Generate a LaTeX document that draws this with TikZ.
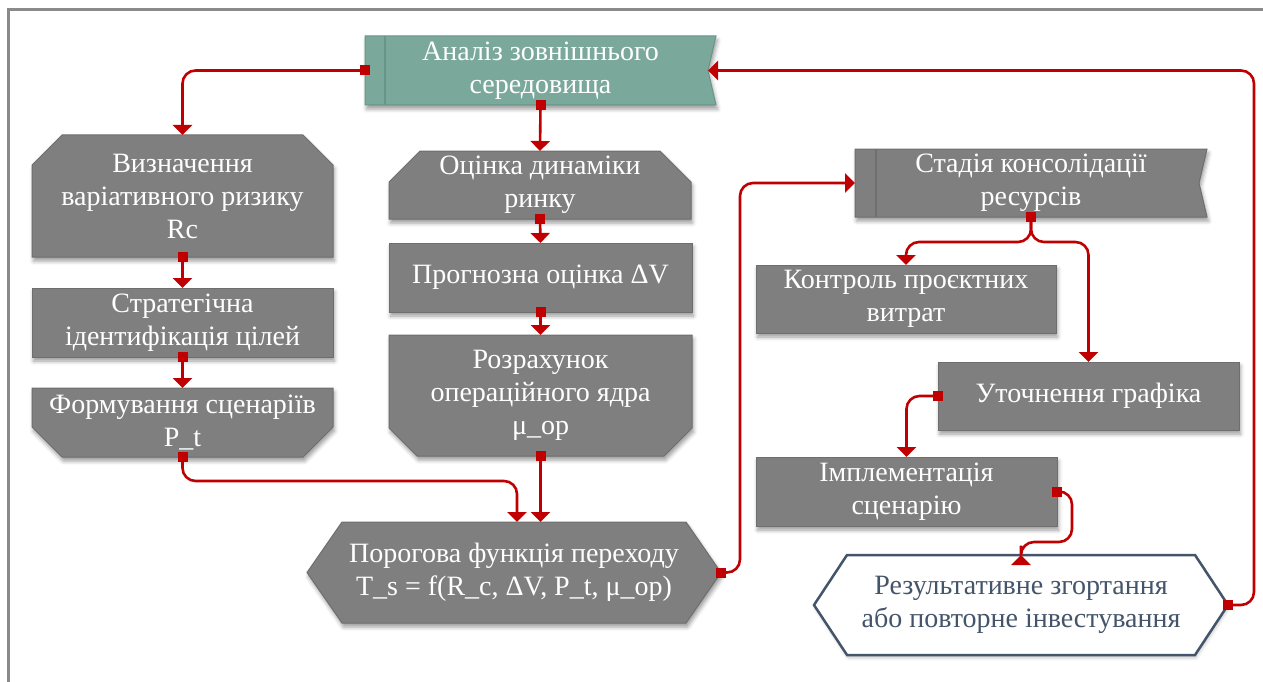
\documentclass[tikz,border=0pt]{standalone}
\usepackage{fontspec}
\setmainfont{Liberation Serif}
\usetikzlibrary{arrows.meta,calc,shadows.blur}
\pgfdeclarelayer{background}
\pgfsetlayers{background,main}

\definecolor{boxgray}{HTML}{7F7F7F}
\definecolor{boxedge}{HTML}{6E6E6E}
\definecolor{tealfill}{HTML}{7AA89B}
\definecolor{tealedge}{HTML}{679688}
\definecolor{linkred}{HTML}{C00000}
\definecolor{slate}{HTML}{44546A}
\definecolor{framegray}{HTML}{8A8A8A}

\tikzset{
  lbl/.style={font=\fontsize{28}{33}\selectfont, text=white, align=center,
    inner sep=0pt, outer sep=0pt},
  softshadow/.style={blur shadow={shadow xshift=1.5pt, shadow yshift=-4pt,
    shadow opacity=40, shadow blur radius=4pt}},
  grayshape/.style={fill=boxgray, draw=boxedge, line width=1pt, softshadow},
  tealshape/.style={fill=tealfill, draw=tealedge, line width=1pt, softshadow},
  whiteshape/.style={fill=white, draw=slate, line width=2.5pt,
    blur shadow={shadow xshift=1pt, shadow yshift=-3pt, shadow opacity=20,
    shadow blur radius=3pt}},
  link/.style={draw=linkred, line width=2.6pt, rounded corners=13pt,
    -{Triangle[width=19pt,length=10pt]}},
  sqmark/.style={fill=linkred, draw=none, sharp corners, minimum size=10pt,
    inner sep=0pt, outer sep=0pt},
}

\begin{document}
\begin{tikzpicture}[x=1pt, y=-1pt]
\useasboundingbox (0,0) rectangle (1263,682);

% outer frame (left and top edges)
\draw[framegray, line width=3pt] (8,682) -- (8,9.5) -- (1263,9.5);

% ---- text nodes (geometry holders) ----
\node[lbl, minimum width=351pt, minimum height=69pt] (A) at (540.5,70.5)
  {Аналіз зовнішнього\\середовища};

\node[lbl, minimum width=301pt, minimum height=122pt] (V) at (182.5,196)
  {Визначення\\варіативного ризику\\Rc};
\node[lbl, minimum width=301pt, minimum height=69pt] (S) at (182.5,322.5)
  {Стратегічна\\ідентифікація цілей};
\node[lbl, minimum width=301pt, minimum height=69pt] (F) at (182.5,422.5)
  {Формування сценаріїв\\P\_t};

\node[lbl, minimum width=302pt, minimum height=68pt] (O) at (540,185)
  {Оцінка динаміки\\ринку};
\node[lbl, minimum width=303pt, minimum height=69pt] (P) at (540.5,277.5)
  {Прогнозна оцінка ΔV};
\node[lbl, minimum width=303pt, minimum height=121pt] (R) at (540.5,395.5)
  {Розрахунок\\операційного ядра\\μ\_op};

\node[lbl, minimum width=414pt, minimum height=101pt] (T) at (514,572.5)
  {Порогова функція переходу\\T\_s = f(R\_c, ΔV, P\_t, μ\_op)};

\node[lbl, minimum width=352pt, minimum height=68pt] (C) at (1031,183)
  {Стадія консолідації\\ресурсів};
\node[lbl, minimum width=300pt, minimum height=68pt] (K) at (906,299)
  {Контроль проєктних\\витрат};
\node[lbl, minimum width=301pt, minimum height=68pt] (U) at (1088.5,396)
  {Уточнення графіка};
\node[lbl, minimum width=301pt, minimum height=69pt] (I) at (906.5,491.5)
  {Імплементація\\сценарію};

\node[lbl, text=slate, minimum width=414pt, minimum height=100pt] (E) at (1021,605)
  {Результативне згортання\\або повторне інвестування};

% ---- shapes behind the texts ----
\begin{pgfonlayer}{background}
  % banner shapes: bar on the left, notch on the right
  \path[tealshape] (A.north west) -- (A.north east) -- ([xshift=-8pt]A.east)
    -- (A.south east) -- (A.south west) -- cycle;
  \draw[tealedge, line width=1.2pt] ([xshift=20pt]A.north west) -- ([xshift=20pt]A.south west);

  \path[grayshape] (C.north west) -- (C.north east) -- ([xshift=-8pt]C.east)
    -- (C.south east) -- (C.south west) -- cycle;
  \draw[boxedge, line width=1.2pt] ([xshift=21pt]C.north west) -- ([xshift=21pt]C.south west);

  % top-chamfered boxes
  \path[grayshape] ([xshift=30pt]V.north west) -- ([xshift=-30pt]V.north east)
    -- ([yshift=-30pt]V.north east) -- (V.south east) -- (V.south west)
    -- ([yshift=-30pt]V.north west) -- cycle;
  \path[grayshape] ([xshift=31pt]O.north west) -- ([xshift=-31pt]O.north east)
    -- ([yshift=-31pt]O.north east) -- (O.south east) -- (O.south west)
    -- ([yshift=-31pt]O.north west) -- cycle;

  % bottom-chamfered boxes
  \path[grayshape] (F.north west) -- (F.north east) -- ([yshift=30pt]F.south east)
    -- ([xshift=-30pt]F.south east) -- ([xshift=30pt]F.south west)
    -- ([yshift=30pt]F.south west) -- cycle;
  \path[grayshape] (R.north west) -- (R.north east) -- ([yshift=28pt]R.south east)
    -- ([xshift=-28pt]R.south east) -- ([xshift=28pt]R.south west)
    -- ([yshift=28pt]R.south west) -- cycle;

  % plain boxes
  \foreach \b in {S,P,K,U,I}
    \path[grayshape] (\b.north west) rectangle (\b.south east);

  % hexagons
  \path[grayshape] ([xshift=35pt]T.north west) -- ([xshift=-35pt]T.north east)
    -- (T.east) -- ([xshift=-35pt]T.south east) -- ([xshift=35pt]T.south west)
    -- (T.west) -- cycle;
  \path[whiteshape] ([xshift=33pt]E.north west) -- ([xshift=-33pt]E.north east)
    -- (E.east) -- ([xshift=-33pt]E.south east) -- ([xshift=33pt]E.south west)
    -- (E.west) -- cycle;
\end{pgfonlayer}

% ---- connectors ----
\draw[link] (A.west) node[sqmark]{} -| (V.north);
\draw[link] (A.south) node[sqmark]{} -- (O.north);

\draw[link] (V.south) node[sqmark]{} -- (S.north);
\draw[link] (S.south) node[sqmark]{} -- (F.north);
\draw[link] (F.south) node[sqmark]{} -- ++(0,24) -| ([xshift=3pt]T.north);

\draw[link] (O.south) node[sqmark]{} -- (P.north);
\draw[link] (P.south) node[sqmark]{} -- (R.north);
\draw[link] (R.south) node[sqmark]{} -- (R.south |- T.north);

\draw[link] (T.east) node[sqmark]{} -- ++(19,0) |- (C.west);

\draw[link] (C.south) node[sqmark]{} -- ++(0,25) -| (K.north);
\draw[link] (C.south) -- ++(0,25) -| (U.north);

\draw[link] (U.west) node[sqmark]{} -| (I.north);
\draw[link] (I.east) node[sqmark]{} -- ++(15,0) |- ($(E.north)+(0,-13)$) -- (E.north);

\draw[link] (E.east) node[sqmark]{} -- ++(26,0) |- ([xshift=-8pt]A.east);
\end{tikzpicture}
\end{document}
